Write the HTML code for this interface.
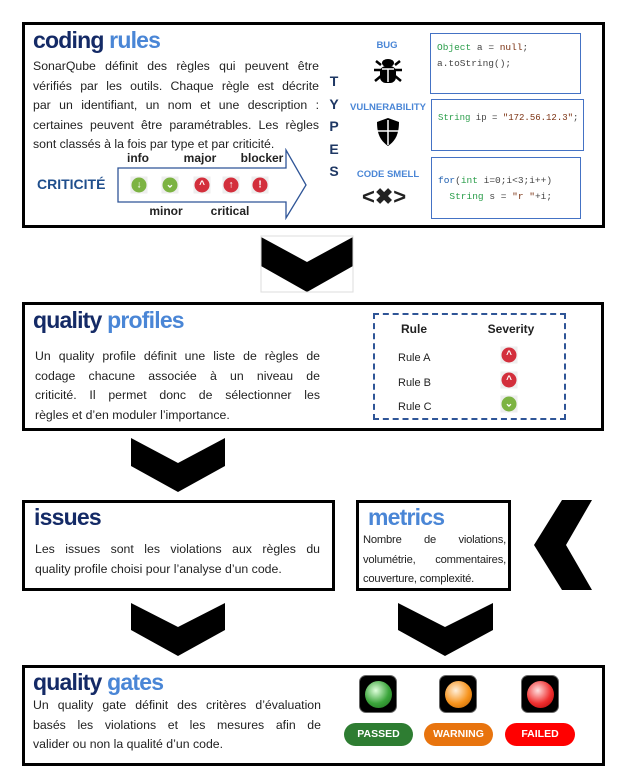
<!DOCTYPE html>
<html><head><meta charset="utf-8"><style>
*{margin:0;padding:0;box-sizing:border-box}
body{width:617px;height:779px;background:#fff;position:relative;font-family:"Liberation Sans",sans-serif;overflow:hidden;color:#222}
.a{position:absolute}
.box{position:absolute;border:3px solid #000;background:#fff}
.t{position:absolute;font-weight:bold;font-size:23px;letter-spacing:-0.8px;color:#142a66;white-space:nowrap}
.t span{color:#4a86d6}
.p{position:absolute;font-size:12.3px;letter-spacing:0;line-height:19.6px;color:#222}
.p div{text-align:justify;text-align-last:justify;height:19.6px;overflow:visible}
.p div.l{text-align-last:left}
.lbl{position:absolute;font-weight:bold;font-size:12px;transform:translateX(-50%);white-space:nowrap}
.ic{position:absolute;width:17px;height:17px;background:#eee;transform:translate(-50%,-50%)}
.ic i{position:absolute;left:1px;top:1px;width:15px;height:15px;border-radius:50%;color:#fff;font-style:normal;font-size:10px;font-weight:bold;text-align:center;line-height:15px}
.g i{background:#7cb342}.r i{background:#d32f3c}
.tl{position:absolute;font-weight:bold;font-size:9.5px;color:#4a86d6;transform:translateX(-50%);white-space:nowrap}
.code{position:absolute;border:1.5px solid #4472c4;font-family:"Liberation Mono",monospace;font-size:9.5px;line-height:16px;padding:6px;color:#444;white-space:pre}
.light{position:absolute;width:38px;height:38px;background:#000;border-radius:7px;border:1px solid #666}
.light i{position:absolute;left:5px;top:5px;width:27px;height:27px;border-radius:50%}
.pill{position:absolute;height:23px;border-radius:12px;color:#fff;font-weight:bold;font-size:10.5px;text-align:center;line-height:23px}
</style></head><body>
<svg class="a" style="left:0;top:0" width="617" height="779">
<g fill="#000">
<polygon points="261,237 307,262 353,237 353,266 307,292 261,266"/>
<polygon points="131,438 178,463 225,438 225,466 178,492 131,466"/>
<polygon points="131,603 178,627 225,603 225,630 178,656 131,630"/>
<polygon points="398,603 445,627 493,603 493,630 445,656 398,630"/>
<polygon points="592,500 566,545 592,590 562,590 534,545 562,500"/>
</g>
<rect x="261" y="236" width="92" height="56" fill="none" stroke="#ddd"/>
</svg>

<div class="box" style="left:22px;top:22px;width:583px;height:206px"></div>
<div class="t" style="left:33px;top:27px">coding <span>rules</span></div>
<div class="p" style="left:33px;top:57px;width:286px"><div>SonarQube définit des règles qui peuvent être</div><div>vérifiés par les outils. Chaque règle est décrite</div><div>par un identifiant, un nom et une description :</div><div>certaines peuvent être paramétrables. Les règles</div><div class="l">sont classés à la fois par type et par criticité.</div></div>
<div class="a" style="left:37px;top:176px;font-weight:bold;font-size:14px;color:#1f4e8c">CRITICITÉ</div>
<svg class="a" style="left:115px;top:148px" width="195" height="72"><polygon points="3,20 171,20 171,2 191,37 171,70 171,54 3,54" fill="#fff" stroke="#2f5597" stroke-width="1.3"/></svg>
<div class="lbl" style="left:138px;top:151px">info</div>
<div class="lbl" style="left:200px;top:151px">major</div>
<div class="lbl" style="left:262px;top:151px">blocker</div>
<div class="lbl" style="left:166px;top:204px">minor</div>
<div class="lbl" style="left:230px;top:204px">critical</div>
<div class="ic g" style="left:139px;top:185px"><i>↓</i></div>
<div class="ic g" style="left:170px;top:185px"><i>⌄</i></div>
<div class="ic r" style="left:202px;top:185px"><i>^</i></div>
<div class="ic r" style="left:231px;top:185px"><i>↑</i></div>
<div class="ic r" style="left:260px;top:185px"><i>!</i></div>
<div class="a" style="left:329px;top:70px;font-weight:bold;font-size:14px;line-height:22.5px;color:#1f3864;text-align:center;width:10px">T<br>Y<br>P<br>E<br>S</div>
<div class="tl" style="left:387px;top:40px">BUG</div>
<svg class="a" style="left:372px;top:56px" width="32" height="30"><g stroke="#000" stroke-width="2.5" fill="none"><path d="M9,14 H2 M23,14 H30 M9,20 L3,25 M23,20 L29,25 M9,9 L4,5 M23,9 L28,5"/></g><ellipse cx="16" cy="7" rx="6" ry="4" fill="#000"/><rect x="8" y="10" width="16" height="17" rx="6" fill="#000"/><path d="M16,13 V26 M10,13 H22" stroke="#fff" stroke-width="1.5"/></svg>
<div class="tl" style="left:388px;top:102px">VULNERABILITY</div>
<svg class="a" style="left:375px;top:117px" width="26" height="30"><path d="M13,1 L24,5 C24,18 20,24 13,29 C6,24 2,18 2,5 Z" fill="#000"/><path d="M13,3 V28 M2,14 H24" stroke="#fff" stroke-width="1.5"/></svg>
<div class="tl" style="left:388px;top:169px">CODE SMELL</div>
<div class="a" style="left:362px;top:184px;font-weight:bold;font-size:22px;line-height:26px">&lt;✖&gt;</div>
<div class="code" style="left:430px;top:33px;width:151px;height:61px"><span style="color:#2a9d4a">Object</span> a = <span style="color:#7a3010">null</span>;
a.toString();</div>
<div class="code" style="left:431px;top:99px;width:153px;height:52px;padding-top:10px;font-size:9px"><span style="color:#2a9d4a">String</span> ip = <span style="color:#7a3010">"172.56.12.3"</span>;</div>
<div class="code" style="left:431px;top:157px;width:150px;height:62px;padding-top:15px"><span style="color:#2060b0">for</span>(<span style="color:#2a9d4a">int</span> i=0;i&lt;3;i++)
  <span style="color:#2a9d4a">String</span> s = <span style="color:#7a3010">"r "</span>+i;</div>

<div class="box" style="left:22px;top:302px;width:582px;height:129px"></div>
<div class="t" style="left:33px;top:307px">quality <span>profiles</span></div>
<div class="p" style="left:35px;top:347px;width:285px"><div>Un quality profile définit une liste de règles de</div><div>codage chacune associée à un niveau de</div><div>criticité. Il permet donc de sélectionner les</div><div class="l">règles et d’en moduler l’importance.</div></div>
<div class="a" style="left:373px;top:313px;width:193px;height:107px;border:2px dashed #2f5597;border-width:2px"></div>
<div class="lbl" style="left:414px;top:322px">Rule</div>
<div class="lbl" style="left:511px;top:322px">Severity</div>
<div class="a" style="left:398px;top:346px;font-size:11px;line-height:24.5px">Rule A<br>Rule B<br>Rule C</div>
<div class="ic r" style="left:509px;top:355px"><i>^</i></div>
<div class="ic r" style="left:509px;top:380px"><i>^</i></div>
<div class="ic g" style="left:509px;top:404px"><i>⌄</i></div>

<div class="box" style="left:22px;top:500px;width:313px;height:91px"></div>
<div class="t" style="left:34px;top:504px;color:#142a66">issues</div>
<div class="p" style="left:35px;top:540px;width:285px"><div>Les issues sont les violations aux règles du</div><div class="l">quality profile choisi pour l’analyse d’un code.</div></div>
<div class="box" style="left:356px;top:500px;width:155px;height:91px"></div>
<div class="t" style="left:368px;top:504px;color:#4a86d6">metrics</div>
<div class="p" style="left:363px;top:531px;width:143px;font-size:11.2px;letter-spacing:-0.2px"><div>Nombre de violations,</div><div>volumétrie, commentaires,</div><div class="l">couverture, complexité.</div></div>

<div class="box" style="left:22px;top:665px;width:583px;height:101px"></div>
<div class="t" style="left:33px;top:669px">quality <span>gates</span></div>
<div class="p" style="left:33px;top:696px;width:288px"><div>Un quality gate définit des critères d’évaluation</div><div>basés les violations et les mesures afin de</div><div class="l">valider ou non la qualité d’un code.</div></div>
<div class="light" style="left:359px;top:675px"><i style="background:radial-gradient(circle at 40% 35%,#dfffdc,#3aa53a 55%,#1d6b1d)"></i></div>
<div class="light" style="left:439px;top:675px"><i style="background:radial-gradient(circle at 40% 35%,#fff0dc,#f7941d 55%,#b85d00)"></i></div>
<div class="light" style="left:521px;top:675px"><i style="background:radial-gradient(circle at 40% 35%,#ffe0e0,#f03030 55%,#a00)"></i></div>
<div class="pill" style="left:344px;top:723px;width:69px;background:#2e7d32">PASSED</div>
<div class="pill" style="left:424px;top:723px;width:69px;background:#e8740e">WARNING</div>
<div class="pill" style="left:505px;top:723px;width:70px;background:#f00">FAILED</div>
</body></html>
